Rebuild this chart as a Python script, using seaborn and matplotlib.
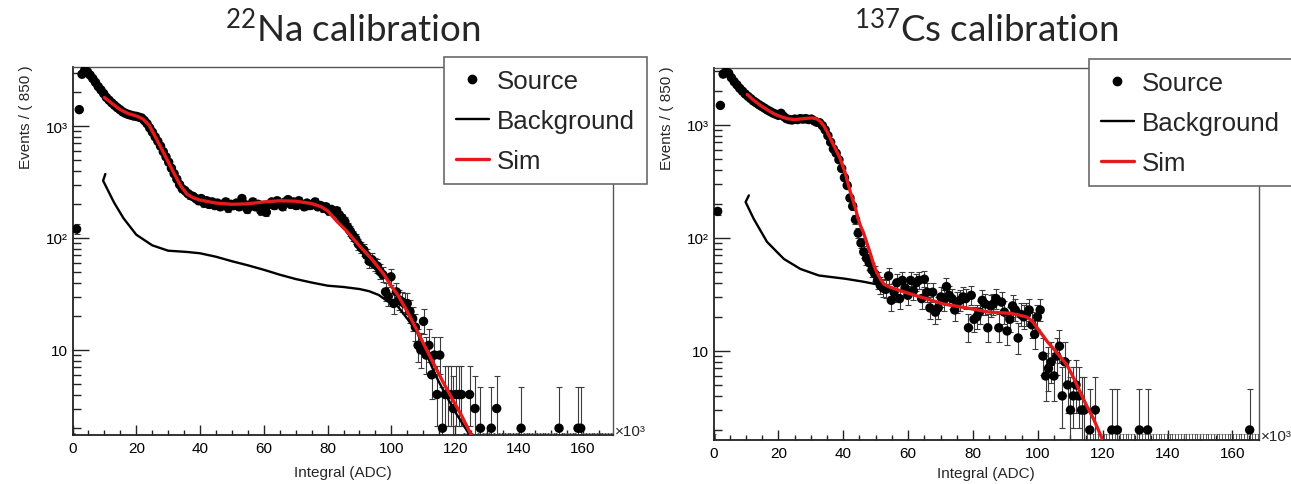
import numpy as np
import matplotlib
matplotlib.use("Agg")
import matplotlib.pyplot as plt
import seaborn as sns
from matplotlib.lines import Line2D
from matplotlib.ticker import FixedLocator, FixedFormatter, MultipleLocator, NullFormatter, LogLocator

# ---------------- data (x in units of 10^3 ADC, counts per 850 ADC bin) ----------------
BIN_W = 0.85
N_BINS = 200

na_counts = [0, 120, 1400, 2900, 3150, 3050, 2850, 2650, 2450, 2250, 2100,
             1950, 1800, 1700, 1610, 1530, 1460, 1400, 1340, 1300, 1270,
             1250, 1230, 1220, 1200, 1180, 1120, 1050, 960, 880, 800,
             730, 660, 590, 530, 475, 420, 375, 335, 300, 275,
             265, 250, 240, 235, 225, 215, 225, 205, 215, 200,
             210, 195, 205, 190, 200, 210, 185, 200, 195, 205,
             190, 225, 200, 180, 195, 210, 190, 200, 175, 190,
             170, 200, 210, 195, 215, 205, 190, 210, 220, 200,
             210, 195, 215, 200, 190, 205, 195, 200, 210, 190,
             195, 185, 190, 175, 180, 170, 175, 160, 150, 140,
             125, 115, 105, 98, 88, 82, 78, 70, 62, 64,
             58, 56, 50, 47, 33, 30, 45, 26, 33, 28,
             27, 26, 26, 22, 19, 16, 11, 10, 18, 9,
             11, 6, 9, 4, 9, 2]
na_tail_bins = [137, 138, 139, 140, 141, 142, 143, 146, 148, 150, 154, 156, 165, 179, 186, 187]
na_tail_counts = [4, 4, 4, 3, 4, 4, 4, 4, 3, 2, 2, 3, 2, 2, 2, 2]

na_sim_x = [10, 12, 15, 17.5, 20, 22, 24, 26, 28, 30, 32, 34, 36, 38, 40, 45, 50, 55, 60,
            65, 70, 75, 78, 80, 83, 86, 90, 94, 97.5, 100, 102, 105, 108, 110, 113, 116,
            119, 122, 125]
na_sim_y = [1800, 1620, 1400, 1290, 1230, 1160, 1020, 800, 620, 480, 370, 290, 245, 228,
            218, 205, 200, 202, 210, 215, 213, 203, 190, 175, 140, 115, 85, 64, 48, 37,
            31, 22, 15, 11.5, 7.8, 5.3, 3.7, 2.6, 1.75]

na_bkg_x = [10.3, 9.6, 10.9, 13, 16, 20, 25, 30, 33, 36, 40, 45, 50, 55, 60, 65, 70, 75,
            80, 85, 90, 93, 96, 99, 102, 105, 108, 111, 114, 117, 120, 123, 124.5]
na_bkg_y = [373, 325, 274, 208, 150, 107, 86, 77, 76, 75, 73, 68, 62, 57, 52, 47, 43, 40,
            37.5, 36.5, 35, 33.5, 31, 27, 24.5, 19, 14.5, 9.2, 5.8, 4.0, 2.8, 2.05, 1.75]

cs_counts = [0, 171, 1480, 2800, 2950, 2850, 2600, 2400, 2250, 2100, 1980,
             1870, 1780, 1700, 1620, 1560, 1500, 1450, 1400, 1350, 1310,
             1270, 1240, 1210, 1260, 1180, 1130, 1110, 1100, 1120, 1110,
             1130, 1120, 1130, 1110, 1120, 1080, 1050, 1040, 980, 900,
             800, 700, 610, 560, 490, 410, 340, 290, 225, 190,
             145, 110, 90, 75, 66, 60, 52, 48, 42, 38,
             36, 35, 46, 28, 33, 40, 29, 42, 36, 31,
             42, 34, 40, 42, 29, 43, 33, 24, 33, 22,
             24, 30, 28, 37, 31, 29, 23, 27, 28, 30,
             29, 16, 31, 19, 20, 22, 28, 26, 16, 25,
             26, 29, 16, 27, 22, 15, 19, 25, 23, 13,
             21, 20, 21, 23, 17, 14, 20, 23, 9, 6,
             7, 8, 6, 9, 11, 4, 8, 5, 3, 4,
             5, 4, 3, 3, 0, 2, 0, 3]
cs_tail_bins = [144, 146, 154, 157, 194]
cs_tail_counts = [2, 2, 2, 2, 2]

cs_sim_x = [10.4, 12, 14.5, 17, 18.6, 20, 22.7, 25, 27, 29, 30.5, 32, 33, 34, 35, 36, 37.1,
            38, 39.1, 40, 40.7, 41.5, 42.2, 43, 43.8, 44.5, 45.3, 46.3, 47.4, 48.4, 49.4,
            50.4, 51.5, 52.5, 54, 57.6, 62.8, 70.9, 78, 85, 91.5, 94, 96.7, 98.5, 100.8,
            103, 104.9, 107, 109, 111, 113.1, 115, 117.2, 119.8]
cs_sim_y = [1850, 1680, 1480, 1330, 1250, 1200, 1130, 1110, 1125, 1140, 1146, 1120, 1060,
            980, 870, 760, 655, 580, 500, 420, 368, 300, 254, 215, 181, 150, 128, 110, 88,
            72, 58, 49, 43, 39, 37, 34, 30.6, 26, 24, 22, 21.5, 20.8, 19.9, 18, 14.6, 12,
            10.4, 8.8, 7.5, 5.8, 4.3, 3.3, 2.5, 1.68]

cs_bkg_x = [10.9, 9.9, 12.4, 16.5, 21.7, 26.8, 32.5, 40.7, 46, 49.9, 52]
cs_bkg_y = [237, 207, 147, 92, 65, 53, 46.4, 43.4, 41, 39, 38]

titles = [r"$\mathregular{^{22}}$Na calibration", r"$\mathregular{^{137}}$Cs calibration"]
legend_labels = ["Source", "Background", "Sim"]
xtick_values = [0, 20, 40, 60, 80, 100, 120, 140, 160]
ytick_values = [10, 100, 1000]
ytick_labels = ["10", "10\u00b2", "10\u00b3"]
ylabel = "Events / ( 850 )"
xlabel = "Integral (ADC)"

RED = "#e41a1c"

# ---------------- style ----------------
sns.set_theme(style="ticks")
plt.rcParams["font.family"] = ["Liberation Sans", "DejaVu Sans"]
plt.rcParams["axes.linewidth"] = 1.2


def poisson_up(n):
    n1 = n + 1.0
    return n1 * (1 - 1 / (9 * n1) + 1 / (3 * np.sqrt(n1))) ** 3 - n


def poisson_lo(n):
    n = np.asarray(n, float)
    out = np.zeros_like(n)
    m = n > 0
    nn = n[m]
    out[m] = nn - nn * (1 - 1 / (9 * nn) - 1 / (3 * np.sqrt(nn))) ** 3
    return out


def full_hist(dense, tail_bins, tail_counts):
    h = np.zeros(N_BINS)
    h[:len(dense)] = dense
    h[np.array(tail_bins)] = tail_counts
    return h


def draw_panel(ax, counts, sim_x, sim_y, bkg_x, bkg_y, xmax, ylim, label_off):
    ax.set_yscale("log")
    centers = (np.arange(N_BINS) + 0.5) * BIN_W
    nz = counts > 0
    # error bars (Poisson intervals)
    ax.errorbar(centers[nz], counts[nz],
                yerr=[poisson_lo(counts[nz]), poisson_up(counts[nz])],
                fmt="none", ecolor="#3c3c3c", elinewidth=0.8, capsize=2.0,
                capthick=0.8, zorder=2)
    z = ~nz
    ax.errorbar(centers[z], np.full(z.sum(), 1e-3),
                yerr=[np.zeros(z.sum()), np.full(z.sum(), poisson_up(0.0))],
                fmt="none", ecolor="#555555", elinewidth=0.7, capsize=1.0,
                capthick=0.7, zorder=2)
    sns.scatterplot(x=centers[nz], y=counts[nz], color="black", s=46,
                    edgecolor="none", linewidth=0, zorder=3, ax=ax, legend=False)
    sns.lineplot(x=bkg_x, y=bkg_y, sort=False, estimator=None, color="black",
                 lw=1.7, zorder=4, ax=ax, legend=False)
    sns.lineplot(x=sim_x, y=sim_y, sort=False, estimator=None, color=RED,
                 lw=2.4, zorder=5, ax=ax, legend=False)

    ax.set_yscale("log")
    ax.set_xlim(0, xmax)
    ax.set_ylim(*ylim)
    ax.xaxis.set_major_locator(FixedLocator(xtick_values))
    ax.xaxis.set_minor_locator(MultipleLocator(5))
    ax.set_xticklabels([str(v) for v in xtick_values])
    ax.yaxis.set_major_locator(FixedLocator(ytick_values))
    ax.yaxis.set_major_formatter(FixedFormatter(ytick_labels))
    ax.yaxis.set_minor_locator(LogLocator(base=10, subs=np.arange(2, 10)))
    ax.yaxis.set_minor_formatter(NullFormatter())
    ax.tick_params(axis="both", which="both", direction="in", colors="#222222",
                   labelcolor="black", labelsize=11, width=1.0,
                   top=False, right=False)
    ax.tick_params(axis="y", which="major", length=11.5, pad=3.5)
    ax.tick_params(axis="y", which="minor", length=6)
    ax.tick_params(axis="x", which="major", length=7.5, pad=4.5)
    ax.tick_params(axis="x", which="minor", length=3.5)
    for s in ("left", "bottom"):
        ax.spines[s].set_color("#222222")
        ax.spines[s].set_linewidth(1.3)
    for s in ("top", "right"):
        ax.spines[s].set_color("#555555")
        ax.spines[s].set_linewidth(1.0)
    ax.set_ylabel(ylabel, fontsize=11, loc="top")
    ax.yaxis.set_label_coords(-0.073, 1.008)
    ax.set_xlabel(xlabel, fontsize=11)
    ax.xaxis.set_label_coords(0.5, label_off)
    ax.text(1.003, 0.012, "\u00d710\u00b3", transform=ax.transAxes, fontsize=11,
            ha="left", va="center")
    ax.set_facecolor("white")


fig = plt.figure(figsize=(12.91, 4.85), dpi=100)
fig.patch.set_facecolor("white")
W, H = 1291.0, 485.0

ax1 = fig.add_axes([72.5 / W, 1 - 436 / H, (613 - 72.5) / W, (436 - 68) / H])
ax2 = fig.add_axes([713.5 / W, 1 - 441 / H, (1259 - 713.5) / W, (441 - 69) / H])

na_hist = full_hist(na_counts, na_tail_bins, na_tail_counts)
cs_hist = full_hist(cs_counts, cs_tail_bins, cs_tail_counts)

draw_panel(ax1, na_hist, na_sim_x, na_sim_y, na_bkg_x, na_bkg_y, 169.5, (1.74, 3365), -30.5 / 368)
draw_panel(ax2, cs_hist, cs_sim_x, cs_sim_y, cs_bkg_x, cs_bkg_y, 168.2, (1.63, 3170), -26 / 372)

handles = [Line2D([], [], marker="o", ls="none", color="black", markersize=6),
           Line2D([], [], color="black", lw=1.7),
           Line2D([], [], color=RED, lw=2.4)]

for ax, anchor in ((ax1, (444 / W, 1 - 58 / H)), (ax2, (1089 / W, 1 - 60 / H))):
    leg = ax.legend(handles, legend_labels, loc="upper left", bbox_to_anchor=anchor,
                    bbox_transform=fig.transFigure, fontsize=18.6, frameon=True,
                    fancybox=False, framealpha=1, edgecolor="#6a6a6a",
                    borderpad=0.45, labelspacing=0.62, handlelength=1.3,
                    handletextpad=0.3, borderaxespad=0.0)
    leg.get_frame().set_linewidth(1.2)
    leg.set_zorder(10)

fig.text(353 / W, 1 - 42 / H, titles[0], ha="center", va="baseline", fontsize=26.5,
         family=["Lato", "DejaVu Sans"])
fig.text(986.5 / W, 1 - 42 / H, titles[1], ha="center", va="baseline", fontsize=26.5,
         family=["Lato", "DejaVu Sans"])

fig.savefig("out.png", dpi=100, facecolor="white")
